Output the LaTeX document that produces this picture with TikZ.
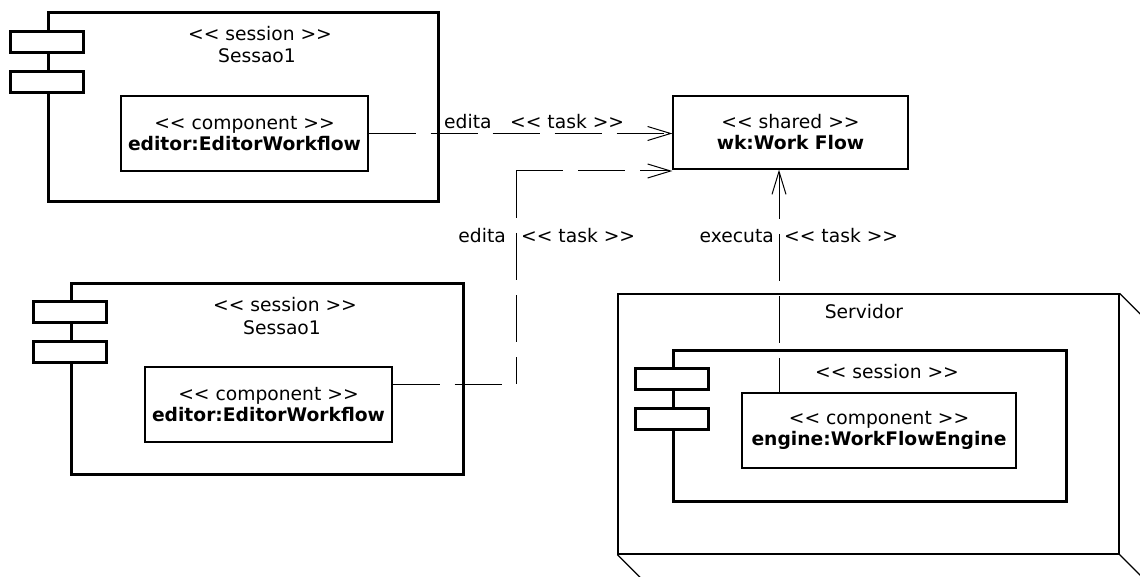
\documentclass[tikz,border=0pt]{standalone}
\usepackage{fontspec}
\setmainfont{DejaVu Sans}[Ligatures=TeXReset]
\usetikzlibrary{arrows.meta}
\begin{document}
\begin{tikzpicture}[x=1pt,y=-1pt,
  every node/.style={font=\fontsize{18.7}{21}\selectfont},
  box/.style={draw, rectangle, inner sep=0pt},
  sessbox/.style={box, line width=3pt},
  tabbox/.style={box, line width=3pt, fill=white, minimum width=73pt, minimum height=21pt},
  compbox/.style={box, line width=1.3pt, fill=white, align=center},
  txt/.style={inner sep=0pt, anchor=base},
  dep/.style={line width=1pt, dash pattern=on 47pt off 15pt},
  barb/.style={-{Straight Barb[length=23pt,width=14pt,line width=1pt]}},
  rbarb/.style={{Straight Barb[length=23pt,width=14pt,line width=1pt]}-},
]
\useasboundingbox (0,0) rectangle (1140,577);
\clip (0,0) rectangle (1140,577);

% ---- top session ----
\node[sessbox, minimum width=390pt, minimum height=189pt] (s1) at (243,107.5) {};
\node[tabbox] (s1t1) at (47,42) {};
\node[tabbox] (s1t2) at (47,82) {};
\node[txt] (s1st) at (260,41) {<< session >>};
\node[txt] (s1nm) at (257,63) {Sessao1};
\node[compbox, minimum width=247pt, minimum height=75pt] (ed1) at (244.5,133.5)
  {<< component >>\\\textbf{editor:EditorWorkflow}};

% ---- bottom session ----
\node[sessbox, minimum width=392pt, minimum height=190pt] (s2) at (267,379) {};
\node[tabbox] (s2t1) at (70,312) {};
\node[tabbox] (s2t2) at (70,352) {};
\node[txt] (s2st) at (285,312) {<< session >>};
\node[txt] (s2nm) at (282,334) {Sessao1};
\node[compbox, minimum width=247pt, minimum height=75pt] (ed2) at (268.5,404.5)
  {<< component >>\\\textbf{editor:EditorWorkflow}};

% ---- shared workflow ----
\node[compbox, minimum width=235pt, minimum height=73pt] (wf) at (790.5,132.5)
  {<< shared >>\\\textbf{wk:Work Flow}};

% ---- server node ----
\node[box, line width=1.3pt, minimum width=501pt, minimum height=260pt] (srv) at (868.5,424) {};
\draw[line width=1.3pt] (srv.north east) -- ++(30,30);
\draw[line width=1.3pt] (srv.south west) -- ++(30,30);
\draw[line width=1.3pt] (srv.south east) -- ++(30,30);
\node[txt] (srvnm) at (864,318) {Servidor};
\node[sessbox, minimum width=393pt, minimum height=151pt] (s3) at (869.5,425.5) {};
\node[tabbox] (s3t1) at (672,378.5) {};
\node[tabbox] (s3t2) at (672,419) {};
\node[txt] (s3st) at (887,378) {<< session >>};
\node[compbox, minimum width=274pt, minimum height=75pt] (eng) at (879,430.5)
  {<< component >>\\\textbf{engine:WorkFlowEngine}};

% ---- connectors ----
\draw[dep, barb] (ed1.east) -- (ed1.east -| wf.west);

\coordinate (c1) at (516,384);
\coordinate (c2) at (516,171);
\draw[dep] (ed2.east |- c1) -- (c1);
\draw[dep] (c2) -- (c1);
\draw[dep, barb] (c2) -- (c2 -| wf.west);

\coordinate (c3) at (779,0);
\draw[dep, rbarb] (wf.south -| c3) -- (eng.north -| c3);

% ---- labels ----
\node[txt, anchor=base west] (l1a) at (444,129) {edita};
\node[txt, anchor=base west] (l1b) at (510,129) {<< task >>};
\node[txt, anchor=base east] (l2a) at (506,243) {edita};
\node[txt, anchor=base west] (l2b) at (521,243) {<< task >>};
\node[txt, anchor=base east] (l3a) at (774,243) {executa};
\node[txt, anchor=base west] (l3b) at (784,243) {<< task >>};
\end{tikzpicture}
\end{document}
